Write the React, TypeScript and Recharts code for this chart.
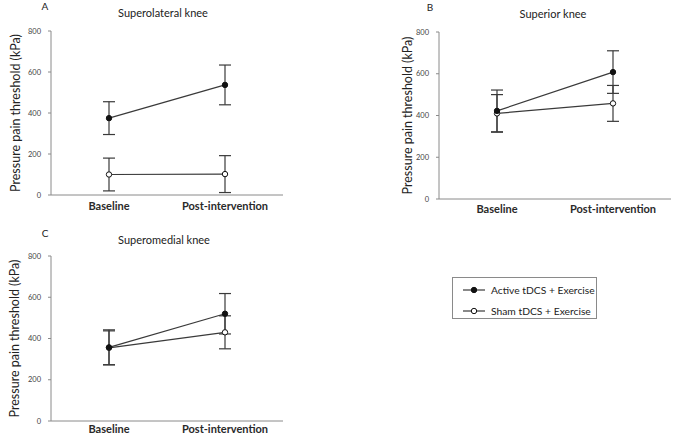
import React from 'react';
import { LineChart, Line, XAxis, YAxis, ErrorBar, Legend } from 'recharts';

const categories = ['Baseline', 'Post-intervention'];
const yTicks = [0, 200, 400, 600, 800];

// panel A - superolateral knee
const aActive = [375, 537];
const aActiveErr = [80, 97];
const aSham = [100, 102];
const aShamErr = [80, 90];

// panel B - superior knee
const bActive = [422, 608];
const bActiveErr = [100, 102];
const bSham = [410, 458];
const bShamErr = [90, 86];

// panel C - superomedial knee
const cActive = [357, 520];
const cActiveErr = [85, 98];
const cSham = [355, 430];
const cShamErr = [82, 80];

const activeName = 'Active tDCS + Exercise';
const shamName = 'Sham tDCS + Exercise';

const FONT = 'Lato, "Open Sans", sans-serif';
const AXIS = '#8a8a8a';
const LINE = '#3a3a3a';

const build = (act: number[], actErr: number[], sham: number[], shamErr: number[]) =>
  categories.map((phase, i) => ({
    phase,
    active: act[i],
    activeErr: actErr[i],
    sham: sham[i],
    shamErr: shamErr[i],
  }));

const YLabel = ({ viewBox, dx }: any) => {
  const x = viewBox.x + dx;
  const y = viewBox.y + viewBox.height / 2;
  return (
    <text
      x={x}
      y={y}
      transform={`rotate(-90, ${x}, ${y})`}
      textAnchor="middle"
      dominantBaseline="central"
      fontFamily={FONT}
      fontSize={12.5}
      fill="#222"
    >
      Pressure pain threshold (kPa)
    </text>
  );
};

const LegendBox = ({ payload }: any) => (
  <div
    style={{
      width: 145,
      height: 42,
      boxSizing: 'border-box',
      border: '1px solid #8a8a8a',
      fontFamily: FONT,
      fontSize: 10.3,
      color: '#222',
      paddingTop: 3,
      whiteSpace: 'nowrap',
    }}
  >
    {(payload || []).map((entry: any) => (
      <div key={entry.value} style={{ display: 'flex', alignItems: 'center', height: 18, marginTop: entry.dataKey === 'sham' ? 3 : 0 }}>
        <svg width={22} height={10} style={{ marginLeft: 10, marginRight: 6, flexShrink: 0 }}>
          <line x1={0} y1={5} x2={22} y2={5} stroke={LINE} strokeWidth={1.2} />
          <circle cx={11} cy={5} r={2.7} fill={entry.dataKey === 'active' ? '#111' : '#fff'} stroke="#111" strokeWidth={1} />
        </svg>
        <span>{entry.value}</span>
      </div>
    ))}
  </div>
);

type PanelProps = {
  data: any[];
  left: number;
  top: number;
  width: number;
  height: number;
  margin: { top: number; right: number; bottom: number; left: number };
  yWidth: number;
  labelDx: number;
  xHeight: number;
  xTickMargin: number;
  legend?: boolean;
};

const Panel = ({ data, left, top, width, height, margin, yWidth, labelDx, xHeight, xTickMargin, legend }: PanelProps) => (
  <div style={{ position: 'absolute', left, top }}>
    <LineChart width={width} height={height} data={data} margin={margin}>
      <XAxis
        dataKey="phase"
        scale="band"
        height={xHeight}
        tickLine={false}
        tickSize={0}
        tickMargin={xTickMargin}
        axisLine={{ stroke: AXIS }}
        tick={{ fontFamily: FONT, fontSize: 11, fontWeight: 700, fill: '#2a2a2a' }}
      />
      <YAxis
        width={yWidth}
        domain={[0, 800]}
        ticks={yTicks}
        tickSize={3}
        tickMargin={7}
        axisLine={{ stroke: AXIS }}
        tickLine={{ stroke: AXIS }}
        tick={{ fontFamily: FONT, fontSize: 7.5, fill: '#444' }}
        label={<YLabel dx={labelDx} />}
      />
      <Line
        dataKey="sham"
        name={shamName}
        stroke={LINE}
        strokeWidth={1.2}
        dot={{ r: 2.7, fill: '#fff', stroke: '#111', strokeWidth: 1 }}
        isAnimationActive={false}
      >
        <ErrorBar dataKey="shamErr" width={6} stroke={LINE} strokeWidth={1.2} direction="y" isAnimationActive={false} />
      </Line>
      <Line
        dataKey="active"
        name={activeName}
        stroke={LINE}
        strokeWidth={1.2}
        dot={{ r: 2.7, fill: '#111', stroke: '#111', strokeWidth: 1 }}
        isAnimationActive={false}
      >
        <ErrorBar dataKey="activeErr" width={6} stroke={LINE} strokeWidth={1.2} direction="y" isAnimationActive={false} />
      </Line>
      {legend && (
        <Legend
          layout="vertical"
          align="center"
          verticalAlign="middle"
          content={<LegendBox />}
          wrapperStyle={{ left: 452, top: 57, width: 145 }}
        />
      )}
    </LineChart>
  </div>
);

const Caption = ({ x, y, text, size = 11 }: { x: number; y: number; text: string; size?: number }) => (
  <div
    style={{
      position: 'absolute',
      left: x,
      top: y,
      transform: 'translate(-50%, -50%)',
      fontFamily: FONT,
      fontSize: size,
      color: '#222',
      whiteSpace: 'nowrap',
    }}
  >
    {text}
  </div>
);

export default function App() {
  return (
    <div style={{ position: 'absolute', left: 0, top: 0, width: 675, height: 442, background: '#fff', overflow: 'hidden' }}>
      <Panel
        data={build(aActive, aActiveErr, aSham, aShamErr)}
        left={0}
        top={0}
        width={300}
        height={220}
        margin={{ top: 31, right: 17, bottom: 3, left: 0 }}
        yWidth={51}
        labelDx={15}
        xHeight={22}
        xTickMargin={7}
      />
      <Panel
        data={build(bActive, bActiveErr, bSham, bShamErr)}
        left={360}
        top={0}
        width={315}
        height={220}
        margin={{ top: 32, right: 4, bottom: 1, left: 0 }}
        yWidth={79}
        labelDx={47}
        xHeight={20}
        xTickMargin={6}
      />
      <Panel
        data={build(cActive, cActiveErr, cSham, cShamErr)}
        left={0}
        top={220}
        width={675}
        height={222}
        margin={{ top: 36, right: 392, bottom: 1, left: 0 }}
        yWidth={51}
        labelDx={14}
        xHeight={20}
        xTickMargin={4}
        legend
      />
      <Caption x={45} y={6} text="A" size={10} />
      <Caption x={163} y={12} text="Superolateral knee" />
      <Caption x={430} y={7} text="B" size={10} />
      <Caption x={553} y={13} text="Superior knee" />
      <Caption x={45} y={233} text="C" size={10} />
      <Caption x={164} y={239} text="Superomedial knee" />
    </div>
  );
}
